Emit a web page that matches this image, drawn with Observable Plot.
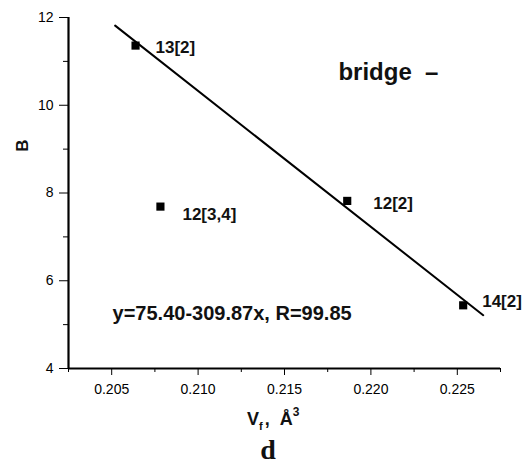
<!DOCTYPE html>
<html>
<head>
<meta charset="utf-8">
<script src="https://cdn.jsdelivr.net/npm/d3@7"></script>
<script src="https://cdn.jsdelivr.net/npm/@observablehq/plot@0.6"></script>
<style>
  html, body { margin: 0; padding: 0; background: #fff; }
  #wrap { position: relative; width: 522px; height: 471px; font-family: "Liberation Sans", Arial, sans-serif; }
  #xlabel { position: absolute; left: 247px; top: 405px; font-weight: bold; font-size: 18px; color: #111; white-space: nowrap; }
  #xlabel sub { font-size: 11px; vertical-align: -5px; margin-right: 2px; }
  #xlabel sup { font-size: 12px; vertical-align: 9px; }
  #caption { position: absolute; left: 0; width: 536px; top: 434px; text-align: center; font-family: "Liberation Serif", "Times New Roman", serif; font-weight: bold; font-size: 28px; color: #111; }
</style>
</head>
<body>
<div id="wrap">
  <div id="chart"></div>
  <div id="xlabel">V<sub>f</sub>, &nbsp;Å<sup>3</sup></div>
  <div id="caption">d</div>
</div>
<script>
// Free volume fraction vs. B parameter for the bridge series
const vf = [0.20638, 0.20782, 0.21863, 0.22534];
const B = [11.36, 7.69, 7.82, 5.44];
const labels = ["13[2]", "12[3,4]", "12[2]", "14[2]"];

// Linear fit reported on the chart: y = a + b·x
const fitIntercept = 75.40;
const fitSlope = -309.87;
const fitR = 99.85;
const fitRange = [0.2052, 0.2265];

const xTicks = [0.205, 0.210, 0.215, 0.220, 0.225];
const xMinorTicks = [0.2025, 0.2075, 0.2125, 0.2175, 0.2225, 0.2275];
const yTicks = [4, 6, 8, 10, 12];
const yMinorTicks = [5, 7, 9, 11];

const xMin = 0.2025, xMax = 0.2275, yMin = 4, yMax = 12;

const points = vf.map((x, i) => ({x, y: B[i], label: labels[i]}));
const fitLine = fitRange.map(x => ({x, y: fitIntercept + fitSlope * x}));

// Per-label nudges so the labels sit beside their squares
const labelOffset = {
  "13[2]": [20, 2],
  "12[3,4]": [22, 8],
  "12[2]": [26, 3],
  "14[2]": [19, -4]
};

const fmtCoef = d3.format(".2f");
const equation = `y=${fmtCoef(fitIntercept)}-${fmtCoef(-fitSlope)}x, R=${fmtCoef(fitR)}`;

const chart = Plot.plot({
  width: 522,
  height: 400,
  marginLeft: 68,
  marginRight: 22,
  marginTop: 17,
  marginBottom: 32,
  style: {fontFamily: "'Liberation Sans', Arial, sans-serif"},
  x: {domain: [xMin, xMax]},
  y: {domain: [yMin, yMax]},
  marks: [
    // major and minor ticks, pointing outward
    Plot.axisX(xTicks, {tickSize: 7, tickPadding: 9, fontSize: 14, tickFormat: d3.format(".3f"), label: null}),
    Plot.axisX(xMinorTicks, {tickSize: 4, tickFormat: () => "", label: null}),
    Plot.axisY(yTicks, {tickSize: 9, tickPadding: 6, fontSize: 14, label: null}),
    Plot.axisY(yMinorTicks, {tickSize: 5, tickFormat: () => "", label: null}),
    Plot.ruleY([yMin], {stroke: "#000", strokeWidth: 2.2}),
    Plot.ruleX([xMin], {stroke: "#000", strokeWidth: 2.2}),
    Plot.line(fitLine, {x: "x", y: "y", stroke: "#000", strokeWidth: 2}),
    Plot.dot(points, {x: "x", y: "y", symbol: "square", r: 4.6, fill: "#000", stroke: null}),
    ...points.map(p => Plot.text([p], {
      x: "x", y: "y", text: "label",
      dx: labelOffset[p.label][0], dy: labelOffset[p.label][1],
      textAnchor: "start", fontSize: 17, fontWeight: "bold", fill: "#111"
    })),
    Plot.text([equation], {x: 0.20505, y: 5.26, textAnchor: "start", fontSize: 20, fontWeight: "bold", fill: "#111"}),
    Plot.text(["bridge  –"], {x: 0.21812, y: 10.75, textAnchor: "start", fontSize: 24, fontWeight: "bold", fill: "#111"}),
    Plot.text(["B"], {x: xMin, y: 9.08, dx: -46, rotate: -90, fontSize: 17, fontWeight: "bold", fill: "#111"})
  ]
});

document.getElementById("chart").appendChild(chart);
</script>
</body>
</html>
